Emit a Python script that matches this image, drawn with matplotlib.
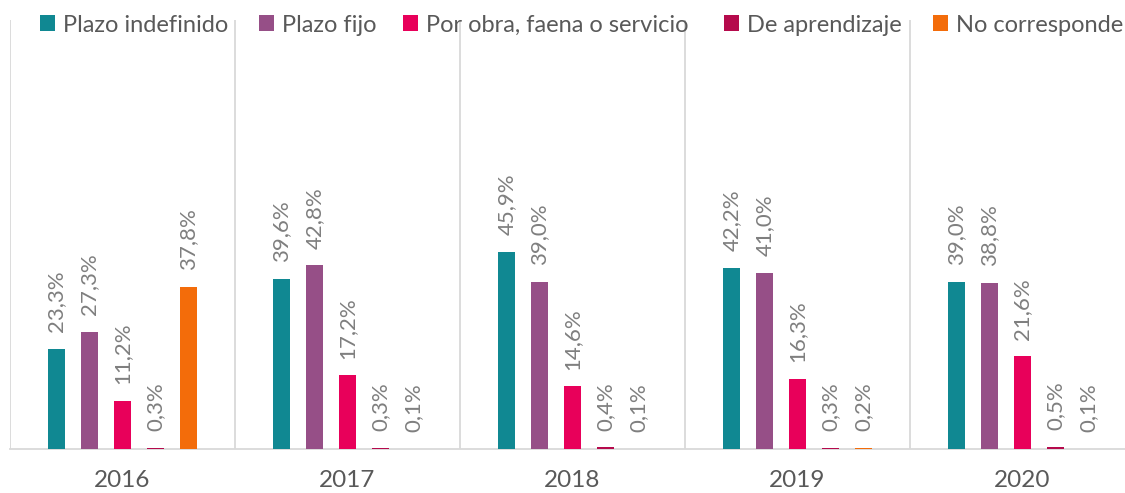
import matplotlib
matplotlib.use("Agg")
import matplotlib.pyplot as plt
from matplotlib.patches import Patch
import numpy as np

years = ["2016", "2017", "2018", "2019", "2020"]
series = ["Plazo indefinido", "Plazo fijo", "Por obra, faena o servicio",
          "De aprendizaje", "No corresponde"]
colors = ["#108892", "#964F87", "#E8005A", "#B50A4C", "#F36C0A"]

plazo_indefinido = [23.3, 39.6, 45.9, 42.2, 39.0]
plazo_fijo = [27.3, 42.8, 39.0, 41.0, 38.8]
por_obra = [11.2, 17.2, 14.6, 16.3, 21.6]
aprendizaje = [0.3, 0.3, 0.4, 0.3, 0.5]
no_corresponde = [37.8, 0.1, 0.1, 0.2, 0.1]
values = [plazo_indefinido, plazo_fijo, por_obra, aprendizaje, no_corresponde]

plt.rcParams['font.family'] = ['Lato', 'DejaVu Sans']

W, H = 1125, 493
fig = plt.figure(figsize=(W / 100, H / 100), dpi=100)
# plot area runs a bit past the right edge (cropped like the original)
ax = fig.add_axes([10 / W, (H - 449) / H, 1125 / W, 429 / H])

x = np.arange(len(years))
step = 33 / 225
width = 17 / 225
for i, (vals, col) in enumerate(zip(values, colors)):
    xs = x + (i - 2) * step
    ax.bar(xs, vals, width=width, color=col, zorder=3)
    for xi, v in zip(xs, vals):
        ax.annotate(f"{v:.1f}%".replace(".", ","), (xi, v), xytext=(0, 12),
                    textcoords="offset points", rotation=90, ha="center",
                    va="bottom", fontsize=16, color="#7F7F7F")

ax.set_xlim(-0.5, 4.5)
ax.set_ylim(0, 100)
for b in np.arange(-0.5, 5, 1):
    ax.axvline(b, color="#D9D9D9", lw=1.3, zorder=1)
for s in ["top", "right", "left"]:
    ax.spines[s].set_visible(False)
ax.spines["bottom"].set_color("#D9D9D9")
ax.spines["bottom"].set_linewidth(1.3)
ax.set_yticks([])
ax.set_xticks(x)
ax.set_xticklabels(years, fontsize=17.5, color="#595959")
ax.tick_params(axis="x", length=0, pad=15)

# legend entries placed one by one, like the Excel layout
legend_x = [40, 259, 403, 724, 933]
for lx, c, s in zip(legend_x, colors, series):
    fig.legend(handles=[Patch(facecolor=c, label=s)], loc="center left",
               bbox_to_anchor=(lx / W, 1 - 25 / H), frameon=False,
               fontsize=17, labelcolor="#595959", handlelength=0.64,
               handleheight=0.64, handletextpad=0.35, borderpad=0,
               borderaxespad=0)

fig.savefig("out.png", dpi=100)
